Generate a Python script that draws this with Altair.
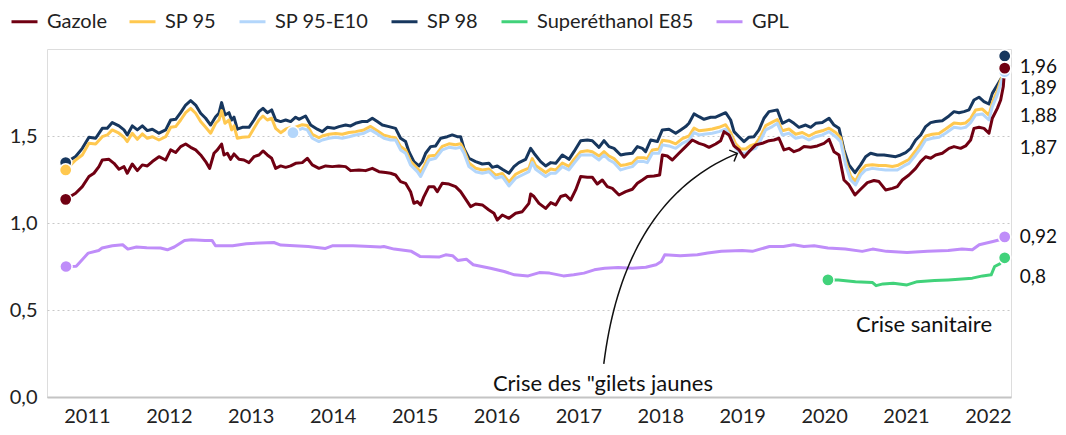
import altair as alt
import pandas as pd

FONT = "Lato"

# ---------------- data (decimal year, €/litre) ----------------
gazole = [
    (2010.740, 1.136), (2010.862, 1.171), (2010.943, 1.209), (2011.024, 1.267), (2011.085, 1.286),
    (2011.146, 1.324), (2011.187, 1.362), (2011.269, 1.366), (2011.330, 1.343), (2011.391, 1.309),
    (2011.452, 1.324), (2011.492, 1.286), (2011.553, 1.339), (2011.615, 1.301), (2011.676, 1.334),
    (2011.737, 1.328), (2011.798, 1.353), (2011.879, 1.381), (2011.961, 1.362), (2012.022, 1.420),
    (2012.083, 1.405), (2012.144, 1.439), (2012.205, 1.454), (2012.266, 1.435), (2012.327, 1.420),
    (2012.388, 1.391), (2012.449, 1.353), (2012.498, 1.314), (2012.551, 1.401), (2012.592, 1.420),
    (2012.644, 1.454), (2012.673, 1.391), (2012.714, 1.401), (2012.754, 1.366), (2012.795, 1.397),
    (2012.856, 1.366), (2012.917, 1.362), (2012.978, 1.347), (2013.039, 1.381), (2013.100, 1.391),
    (2013.149, 1.414), (2013.202, 1.391), (2013.255, 1.372), (2013.304, 1.314), (2013.365, 1.328),
    (2013.426, 1.320), (2013.487, 1.328), (2013.548, 1.343), (2013.629, 1.347), (2013.690, 1.372),
    (2013.751, 1.334), (2013.832, 1.314), (2013.914, 1.328), (2013.995, 1.324), (2014.077, 1.328),
    (2014.158, 1.324), (2014.219, 1.301), (2014.321, 1.305), (2014.402, 1.301), (2014.484, 1.314),
    (2014.565, 1.295), (2014.646, 1.290), (2014.707, 1.286), (2014.768, 1.276), (2014.829, 1.238),
    (2014.890, 1.228), (2014.951, 1.180), (2014.992, 1.113), (2015.033, 1.123), (2015.074, 1.104),
    (2015.114, 1.152), (2015.175, 1.209), (2015.236, 1.209), (2015.277, 1.180), (2015.338, 1.228),
    (2015.420, 1.224), (2015.501, 1.209), (2015.562, 1.180), (2015.603, 1.152), (2015.684, 1.094),
    (2015.745, 1.109), (2015.827, 1.104), (2015.908, 1.075), (2015.969, 1.056), (2016.010, 1.017),
    (2016.071, 1.046), (2016.152, 1.027), (2016.234, 1.056), (2016.315, 1.065), (2016.396, 1.113),
    (2016.417, 1.167), (2016.458, 1.152), (2016.519, 1.113), (2016.600, 1.084), (2016.662, 1.117),
    (2016.723, 1.104), (2016.784, 1.152), (2016.845, 1.161), (2016.906, 1.132), (2016.967, 1.190),
    (2017.028, 1.267), (2017.109, 1.263), (2017.170, 1.263), (2017.231, 1.224), (2017.292, 1.247),
    (2017.353, 1.209), (2017.415, 1.199), (2017.496, 1.161), (2017.577, 1.180), (2017.659, 1.194),
    (2017.720, 1.228), (2017.781, 1.247), (2017.842, 1.267), (2017.923, 1.270), (2017.992, 1.276),
    (2018.025, 1.391), (2018.086, 1.385), (2018.147, 1.362), (2018.228, 1.401), (2018.310, 1.439),
    (2018.391, 1.477), (2018.473, 1.458), (2018.534, 1.449), (2018.595, 1.435), (2018.676, 1.454),
    (2018.737, 1.473), (2018.778, 1.525), (2018.839, 1.506), (2018.900, 1.443), (2018.961, 1.420),
    (2019.022, 1.378), (2019.083, 1.410), (2019.165, 1.449), (2019.246, 1.458), (2019.327, 1.473),
    (2019.388, 1.477), (2019.449, 1.487), (2019.510, 1.420), (2019.571, 1.429), (2019.632, 1.410),
    (2019.693, 1.420), (2019.754, 1.439), (2019.836, 1.435), (2019.917, 1.443), (2019.999, 1.458),
    (2020.060, 1.481), (2020.121, 1.410), (2020.182, 1.391), (2020.243, 1.247), (2020.304, 1.219),
    (2020.377, 1.161), (2020.446, 1.194), (2020.528, 1.232), (2020.609, 1.244), (2020.670, 1.238),
    (2020.751, 1.190), (2020.833, 1.199), (2020.894, 1.209), (2020.955, 1.247), (2021.036, 1.276),
    (2021.118, 1.314), (2021.179, 1.353), (2021.240, 1.381), (2021.301, 1.372), (2021.362, 1.391),
    (2021.443, 1.401), (2021.525, 1.429), (2021.586, 1.439), (2021.667, 1.429), (2021.728, 1.443),
    (2021.789, 1.477), (2021.830, 1.544), (2021.891, 1.550), (2021.952, 1.544), (2022.013, 1.516),
    (2022.054, 1.602), (2022.115, 1.659), (2022.156, 1.707), (2022.188, 1.784), (2022.205, 1.890),
]

sp95 = [
    (2010.740, 1.305), (2010.862, 1.362), (2010.943, 1.391), (2011.024, 1.458), (2011.106, 1.454),
    (2011.187, 1.496), (2011.248, 1.506), (2011.309, 1.535), (2011.391, 1.516), (2011.452, 1.493),
    (2011.492, 1.468), (2011.553, 1.516), (2011.615, 1.481), (2011.676, 1.512), (2011.737, 1.487),
    (2011.798, 1.496), (2011.879, 1.477), (2011.961, 1.496), (2012.022, 1.550), (2012.083, 1.554),
    (2012.144, 1.592), (2012.205, 1.634), (2012.266, 1.659), (2012.327, 1.631), (2012.388, 1.583),
    (2012.449, 1.550), (2012.510, 1.516), (2012.571, 1.573), (2012.612, 1.592), (2012.644, 1.646),
    (2012.685, 1.573), (2012.734, 1.592), (2012.766, 1.535), (2012.795, 1.558), (2012.836, 1.487),
    (2012.897, 1.493), (2012.978, 1.496), (2013.039, 1.544), (2013.100, 1.592), (2013.149, 1.615),
    (2013.202, 1.592), (2013.255, 1.602), (2013.304, 1.544), (2013.365, 1.519), (2013.426, 1.539),
    (2013.487, 1.550), (2013.515, 1.545), (2013.629, 1.565), (2013.690, 1.560), (2013.751, 1.510),
    (2013.832, 1.490), (2013.873, 1.500), (2013.954, 1.510), (2014.036, 1.515), (2014.117, 1.510),
    (2014.199, 1.520), (2014.280, 1.525), (2014.382, 1.535), (2014.463, 1.555), (2014.545, 1.530),
    (2014.626, 1.505), (2014.707, 1.495), (2014.768, 1.490), (2014.829, 1.440), (2014.890, 1.420),
    (2014.951, 1.355), (2015.033, 1.315), (2015.074, 1.290), (2015.114, 1.325), (2015.175, 1.385),
    (2015.257, 1.390), (2015.338, 1.440), (2015.420, 1.455), (2015.501, 1.450), (2015.562, 1.455),
    (2015.603, 1.420), (2015.664, 1.345), (2015.745, 1.315), (2015.827, 1.305), (2015.908, 1.310),
    (2015.989, 1.275), (2016.071, 1.285), (2016.152, 1.235), (2016.234, 1.280), (2016.315, 1.300),
    (2016.396, 1.315), (2016.437, 1.370), (2016.478, 1.330), (2016.600, 1.290), (2016.662, 1.310),
    (2016.723, 1.305), (2016.804, 1.345), (2016.885, 1.325), (2016.946, 1.365), (2017.028, 1.410),
    (2017.109, 1.415), (2017.170, 1.410), (2017.252, 1.385), (2017.313, 1.410), (2017.374, 1.385),
    (2017.435, 1.370), (2017.516, 1.330), (2017.577, 1.335), (2017.659, 1.345), (2017.720, 1.375),
    (2017.801, 1.375), (2017.842, 1.370), (2017.903, 1.420), (2017.984, 1.425), (2018.025, 1.475),
    (2018.106, 1.470), (2018.188, 1.455), (2018.269, 1.485), (2018.350, 1.500), (2018.412, 1.545),
    (2018.473, 1.530), (2018.554, 1.535), (2018.635, 1.540), (2018.717, 1.550), (2018.798, 1.565),
    (2018.859, 1.520), (2018.920, 1.455), (2018.981, 1.425), (2019.043, 1.425), (2019.104, 1.445),
    (2019.165, 1.455), (2019.226, 1.500), (2019.287, 1.560), (2019.368, 1.580), (2019.429, 1.595),
    (2019.490, 1.530), (2019.571, 1.540), (2019.653, 1.510), (2019.734, 1.520), (2019.815, 1.500),
    (2019.897, 1.520), (2019.978, 1.530), (2020.060, 1.545), (2020.141, 1.520), (2020.202, 1.490),
    (2020.263, 1.355), (2020.324, 1.270), (2020.385, 1.240), (2020.446, 1.300), (2020.507, 1.330),
    (2020.589, 1.335), (2020.670, 1.330), (2020.751, 1.330), (2020.833, 1.325), (2020.894, 1.330),
    (2020.975, 1.350), (2021.036, 1.365), (2021.118, 1.415), (2021.179, 1.455), (2021.240, 1.500),
    (2021.321, 1.510), (2021.403, 1.515), (2021.484, 1.540), (2021.586, 1.575), (2021.667, 1.570),
    (2021.728, 1.575), (2021.789, 1.600), (2021.850, 1.650), (2021.932, 1.655), (2022.013, 1.620),
    (2022.054, 1.690), (2022.115, 1.760), (2022.164, 1.830), (2022.205, 1.880),
]

sp95_e10 = [
    (2013.515, 1.519), (2013.629, 1.544), (2013.690, 1.535), (2013.751, 1.487), (2013.832, 1.468),
    (2013.873, 1.477), (2013.954, 1.487), (2014.036, 1.493), (2014.117, 1.487), (2014.199, 1.496),
    (2014.280, 1.506), (2014.382, 1.516), (2014.463, 1.535), (2014.545, 1.512), (2014.626, 1.487),
    (2014.707, 1.477), (2014.768, 1.477), (2014.829, 1.420), (2014.890, 1.401), (2014.951, 1.334),
    (2015.033, 1.295), (2015.074, 1.267), (2015.114, 1.305), (2015.175, 1.362), (2015.257, 1.372),
    (2015.338, 1.420), (2015.420, 1.435), (2015.501, 1.429), (2015.562, 1.435), (2015.603, 1.401),
    (2015.664, 1.324), (2015.745, 1.295), (2015.827, 1.286), (2015.908, 1.295), (2015.989, 1.257),
    (2016.071, 1.267), (2016.152, 1.213), (2016.234, 1.257), (2016.315, 1.276), (2016.396, 1.295),
    (2016.437, 1.347), (2016.478, 1.309), (2016.600, 1.267), (2016.662, 1.286), (2016.723, 1.286),
    (2016.804, 1.324), (2016.885, 1.305), (2016.946, 1.343), (2017.028, 1.391), (2017.109, 1.391),
    (2017.170, 1.391), (2017.252, 1.362), (2017.313, 1.391), (2017.374, 1.362), (2017.435, 1.347),
    (2017.516, 1.305), (2017.577, 1.314), (2017.659, 1.324), (2017.720, 1.353), (2017.801, 1.353),
    (2017.842, 1.347), (2017.903, 1.401), (2017.984, 1.401), (2018.025, 1.449), (2018.106, 1.443),
    (2018.188, 1.429), (2018.269, 1.458), (2018.350, 1.477), (2018.412, 1.519), (2018.473, 1.506),
    (2018.554, 1.512), (2018.635, 1.516), (2018.717, 1.525), (2018.798, 1.539), (2018.859, 1.496),
    (2018.920, 1.429), (2018.981, 1.401), (2019.043, 1.401), (2019.104, 1.420), (2019.165, 1.429),
    (2019.226, 1.477), (2019.287, 1.535), (2019.368, 1.554), (2019.429, 1.573), (2019.490, 1.506),
    (2019.571, 1.516), (2019.653, 1.487), (2019.734, 1.496), (2019.815, 1.477), (2019.897, 1.496),
    (2019.978, 1.506), (2020.060, 1.525), (2020.141, 1.496), (2020.202, 1.468), (2020.263, 1.334),
    (2020.324, 1.247), (2020.385, 1.219), (2020.446, 1.276), (2020.507, 1.305), (2020.589, 1.314),
    (2020.670, 1.309), (2020.751, 1.305), (2020.833, 1.305), (2020.894, 1.305), (2020.975, 1.328),
    (2021.036, 1.343), (2021.118, 1.391), (2021.179, 1.429), (2021.240, 1.477), (2021.321, 1.487),
    (2021.403, 1.493), (2021.484, 1.516), (2021.586, 1.550), (2021.667, 1.544), (2021.728, 1.550),
    (2021.789, 1.577), (2021.850, 1.621), (2021.932, 1.627), (2022.013, 1.592), (2022.054, 1.669),
    (2022.115, 1.736), (2022.164, 1.812), (2022.205, 1.870),
]

sp98 = [
    (2010.740, 1.347), (2010.862, 1.382), (2010.943, 1.429), (2011.024, 1.493), (2011.106, 1.487),
    (2011.187, 1.544), (2011.248, 1.544), (2011.309, 1.577), (2011.391, 1.558), (2011.452, 1.535),
    (2011.492, 1.506), (2011.553, 1.558), (2011.615, 1.535), (2011.676, 1.558), (2011.737, 1.531),
    (2011.798, 1.539), (2011.879, 1.516), (2011.961, 1.535), (2012.022, 1.592), (2012.083, 1.596),
    (2012.144, 1.634), (2012.205, 1.678), (2012.266, 1.703), (2012.327, 1.678), (2012.388, 1.631),
    (2012.449, 1.602), (2012.510, 1.563), (2012.571, 1.611), (2012.612, 1.631), (2012.644, 1.692),
    (2012.685, 1.621), (2012.734, 1.634), (2012.766, 1.592), (2012.795, 1.608), (2012.836, 1.539),
    (2012.897, 1.550), (2012.978, 1.550), (2013.039, 1.592), (2013.100, 1.640), (2013.149, 1.659),
    (2013.202, 1.634), (2013.255, 1.650), (2013.304, 1.592), (2013.365, 1.583), (2013.426, 1.592),
    (2013.487, 1.583), (2013.548, 1.608), (2013.588, 1.596), (2013.669, 1.615), (2013.731, 1.563),
    (2013.812, 1.539), (2013.873, 1.525), (2013.934, 1.550), (2014.015, 1.544), (2014.077, 1.554),
    (2014.158, 1.563), (2014.219, 1.558), (2014.280, 1.573), (2014.361, 1.583), (2014.422, 1.583),
    (2014.484, 1.602), (2014.545, 1.583), (2014.606, 1.563), (2014.687, 1.554), (2014.768, 1.544),
    (2014.829, 1.487), (2014.890, 1.468), (2014.931, 1.410), (2014.992, 1.353), (2015.053, 1.328),
    (2015.094, 1.353), (2015.135, 1.401), (2015.196, 1.439), (2015.257, 1.443), (2015.318, 1.487),
    (2015.399, 1.496), (2015.460, 1.506), (2015.521, 1.496), (2015.562, 1.496), (2015.603, 1.429),
    (2015.664, 1.372), (2015.745, 1.353), (2015.827, 1.339), (2015.908, 1.343), (2015.949, 1.320),
    (2016.010, 1.328), (2016.071, 1.309), (2016.152, 1.286), (2016.213, 1.324), (2016.274, 1.347),
    (2016.356, 1.366), (2016.417, 1.429), (2016.458, 1.401), (2016.539, 1.353), (2016.600, 1.328),
    (2016.662, 1.347), (2016.723, 1.343), (2016.804, 1.391), (2016.885, 1.366), (2016.946, 1.410),
    (2017.028, 1.473), (2017.109, 1.477), (2017.170, 1.473), (2017.252, 1.435), (2017.313, 1.473),
    (2017.374, 1.439), (2017.435, 1.429), (2017.516, 1.391), (2017.577, 1.397), (2017.659, 1.401),
    (2017.720, 1.439), (2017.781, 1.429), (2017.821, 1.410), (2017.883, 1.477), (2017.964, 1.468),
    (2018.025, 1.535), (2018.106, 1.539), (2018.188, 1.516), (2018.249, 1.535), (2018.310, 1.554),
    (2018.350, 1.573), (2018.412, 1.627), (2018.473, 1.611), (2018.534, 1.596), (2018.615, 1.608),
    (2018.676, 1.608), (2018.737, 1.621), (2018.798, 1.634), (2018.859, 1.592), (2018.900, 1.525),
    (2018.961, 1.496), (2019.022, 1.468), (2019.083, 1.493), (2019.144, 1.496), (2019.205, 1.535),
    (2019.266, 1.602), (2019.327, 1.640), (2019.429, 1.650), (2019.490, 1.573), (2019.571, 1.592),
    (2019.632, 1.573), (2019.693, 1.550), (2019.775, 1.563), (2019.836, 1.550), (2019.897, 1.573),
    (2019.978, 1.577), (2020.060, 1.602), (2020.121, 1.563), (2020.182, 1.544), (2020.243, 1.420),
    (2020.304, 1.334), (2020.377, 1.289), (2020.446, 1.334), (2020.507, 1.381), (2020.568, 1.401),
    (2020.650, 1.391), (2020.731, 1.391), (2020.813, 1.385), (2020.874, 1.381), (2020.935, 1.391),
    (2020.996, 1.405), (2021.057, 1.429), (2021.118, 1.477), (2021.179, 1.506), (2021.240, 1.554),
    (2021.301, 1.577), (2021.362, 1.583), (2021.443, 1.588), (2021.525, 1.615), (2021.586, 1.640),
    (2021.647, 1.634), (2021.708, 1.640), (2021.769, 1.650), (2021.830, 1.707), (2021.891, 1.723),
    (2021.952, 1.698), (2022.013, 1.684), (2022.054, 1.745), (2022.115, 1.793), (2022.164, 1.832),
    (2022.205, 1.960),
]

e85 = [
    (2020.047, 0.673), (2020.173, 0.673), (2020.383, 0.663), (2020.592, 0.658), (2020.635, 0.640),
    (2020.719, 0.650), (2020.845, 0.654), (2021.012, 0.644), (2021.138, 0.663), (2021.348, 0.669),
    (2021.515, 0.673), (2021.642, 0.677), (2021.810, 0.683), (2021.935, 0.696), (2022.040, 0.702),
    (2022.082, 0.750), (2022.145, 0.765), (2022.205, 0.800),
]

gpl = [
    (2010.744, 0.750), (2010.869, 0.752), (2011.016, 0.827), (2011.143, 0.842), (2011.184, 0.856),
    (2011.310, 0.869), (2011.436, 0.875), (2011.499, 0.850), (2011.604, 0.862), (2011.730, 0.858),
    (2011.897, 0.856), (2011.982, 0.846), (2012.066, 0.862), (2012.191, 0.900), (2012.275, 0.904),
    (2012.443, 0.900), (2012.527, 0.900), (2012.569, 0.869), (2012.779, 0.869), (2012.946, 0.881),
    (2013.115, 0.885), (2013.282, 0.888), (2013.366, 0.873), (2013.534, 0.869), (2013.702, 0.865),
    (2013.912, 0.854), (2013.995, 0.869), (2014.248, 0.869), (2014.457, 0.865), (2014.583, 0.862),
    (2014.625, 0.865), (2014.751, 0.850), (2014.961, 0.837), (2015.066, 0.808), (2015.297, 0.804),
    (2015.380, 0.817), (2015.464, 0.812), (2015.527, 0.785), (2015.632, 0.792), (2015.716, 0.760),
    (2015.926, 0.740), (2016.094, 0.721), (2016.220, 0.702), (2016.387, 0.696), (2016.523, 0.715),
    (2016.648, 0.712), (2016.817, 0.696), (2016.943, 0.702), (2017.068, 0.712), (2017.194, 0.731),
    (2017.320, 0.740), (2017.487, 0.744), (2017.656, 0.740), (2017.823, 0.746), (2017.949, 0.760),
    (2018.012, 0.779), (2018.054, 0.817), (2018.243, 0.812), (2018.453, 0.817), (2018.579, 0.827),
    (2018.746, 0.837), (2018.999, 0.842), (2019.124, 0.837), (2019.333, 0.865), (2019.502, 0.865),
    (2019.628, 0.875), (2019.753, 0.865), (2019.879, 0.869), (2020.046, 0.856), (2020.258, 0.850),
    (2020.466, 0.837), (2020.592, 0.850), (2020.761, 0.837), (2021.012, 0.831), (2021.264, 0.837),
    (2021.515, 0.842), (2021.684, 0.850), (2021.810, 0.846), (2021.894, 0.875), (2022.061, 0.894),
    (2022.145, 0.904), (2022.205, 0.920),
]

names = ["Gazole", "SP 95", "SP 95-E10", "SP 98", "Superéthanol E85", "GPL"]
colors = ["#700012", "#ffc84f", "#b3d6fb", "#17375e", "#41d27a", "#bf8df9"]
series = {"Gazole": gazole, "SP 95": sp95, "SP 95-E10": sp95_e10,
          "SP 98": sp98, "Superéthanol E85": e85, "GPL": gpl}
draw_order = ["GPL", "Superéthanol E85", "SP 98", "SP 95", "SP 95-E10", "Gazole"]

years = list(range(2011, 2023))

# end labels
label_text = ["1,96", "1,89", "1,88", "1,87", "0,92", "0,8"]
label_value = [1.96, 1.89, 1.88, 1.87, 0.92, 0.80]
label_dy = [11, 20, 46, 76, 0, 19]

# annotations
annot_text = ['Crise des "gilets jaunes', "Crise sanitaire"]
annot_t = [2017.30, 2021.22]
annot_v = [0.075, 0.414]
arrow_start = (2017.31, 0.19)
arrow_ctrl = (2017.56, 1.13)
arrow_end = (2018.94, 1.40)

# ---------------- chart ----------------
X_DOMAIN = [2010.512, 2022.282]
Y_DOMAIN = [0, 2.0]

x_enc = alt.X("t:Q", scale=alt.Scale(domain=X_DOMAIN, nice=False, zero=False),
              axis=alt.Axis(values=years, format="d", title=None, ticks=False, grid=False,
                            domain=True, domainColor="#c4c4c4", domainWidth=2,
                            labelFontSize=20, labelPadding=9, labelColor="#222",
                            labelFont=FONT))
y_enc = alt.Y("v:Q", scale=alt.Scale(domain=Y_DOMAIN, nice=False, zero=True),
              axis=alt.Axis(values=[0, 0.5, 1.0, 1.5], title=None, ticks=False, domain=False,
                            grid=True, gridDash=[2, 3], gridColor="#c8c8c8", gridWidth=1,
                            labelExpr="replace(format(datum.value, '.1f'), '.', ',')",
                            labelFontSize=20, labelPadding=10, labelColor="#222",
                            labelFont=FONT))

color_scale = alt.Scale(domain=names, range=colors)
legend = alt.Legend(orient="none", legendX=-37, legendY=-42, direction="horizontal",
                    columns=6, title=None, symbolType="stroke", symbolStrokeWidth=3,
                    symbolSize=676, labelFontSize=20, labelFont=FONT, labelColor="#222",
                    labelOffset=8, columnPadding=16, padding=0, labelLimit=400)


def frame(name):
    pts = series[name]
    return pd.DataFrame({"t": [p[0] for p in pts], "v": [p[1] for p in pts], "carburant": name})


layers = []
for name in draw_order:
    layers.append(
        alt.Chart(frame(name)).mark_line(strokeWidth=3, strokeJoin="round").encode(
            x=x_enc, y=y_enc,
            color=alt.Color("carburant:N", scale=color_scale, legend=legend),
        )
    )

# start / end dots
dot_rows = []
for name in draw_order:
    pts = series[name]
    dot_rows.append({"t": pts[0][0], "v": pts[0][1], "carburant": name})
    dot_rows.append({"t": pts[-1][0], "v": pts[-1][1], "carburant": name})
dots = pd.DataFrame(dot_rows)
layers.append(
    alt.Chart(dots).mark_circle(size=150, opacity=1, stroke="white", strokeWidth=1.5).encode(
        x=x_enc, y=y_enc,
        fill=alt.Fill("carburant:N", scale=alt.Scale(domain=names, range=colors), legend=None),
        order=alt.value(0),
    )
)

# end labels
t_end = sp98[-1][0]
for txt, val, dy in zip(label_text, label_value, label_dy):
    layers.append(
        alt.Chart(pd.DataFrame({"t": [t_end], "v": [val], "txt": [txt]})).mark_text(
            align="left", baseline="middle", dx=15, dy=dy, fontSize=19, font=FONT, color="#111"
        ).encode(x=x_enc, y=y_enc, text="txt:N")
    )

# annotation texts
layers.append(
    alt.Chart(pd.DataFrame({"t": annot_t, "v": annot_v, "txt": annot_text})).mark_text(
        align="center", baseline="middle", fontSize=22, font=FONT, color="#111"
    ).encode(x=x_enc, y=y_enc, text="txt:N")
)

# curved arrow (quadratic Bezier through annotation anchors)
n = 40
curve = []
for i in range(n + 1):
    s = i / n
    a, b, c = (1 - s) ** 2, 2 * (1 - s) * s, s ** 2
    curve.append({
        "t": a * arrow_start[0] + b * arrow_ctrl[0] + c * arrow_end[0],
        "v": a * arrow_start[1] + b * arrow_ctrl[1] + c * arrow_end[1],
        "k": i,
    })
layers.append(
    alt.Chart(pd.DataFrame(curve)).mark_line(color="#111", strokeWidth=1.5).encode(
        x=x_enc, y=y_enc, order="k:Q"
    )
)
layers.append(
    alt.Chart(pd.DataFrame({"t": [arrow_end[0]], "v": [arrow_end[1]]})).mark_point(
        shape="M -1 -1 L 0 0 L -1 1", angle=337, size=150, filled=False,
        stroke="#111", strokeWidth=1.5, opacity=1
    ).encode(x=x_enc, y=y_enc)
)

chart = alt.layer(*layers).properties(
    width=964, height=348,
    padding={"left": 39, "top": 41, "right": 47, "bottom": 30},
    autosize=alt.AutoSizeParams(type="none"),
).configure_view(stroke=None).configure(font=FONT)

chart.save("out.html", embed_options={"renderer": "svg", "actions": False})
